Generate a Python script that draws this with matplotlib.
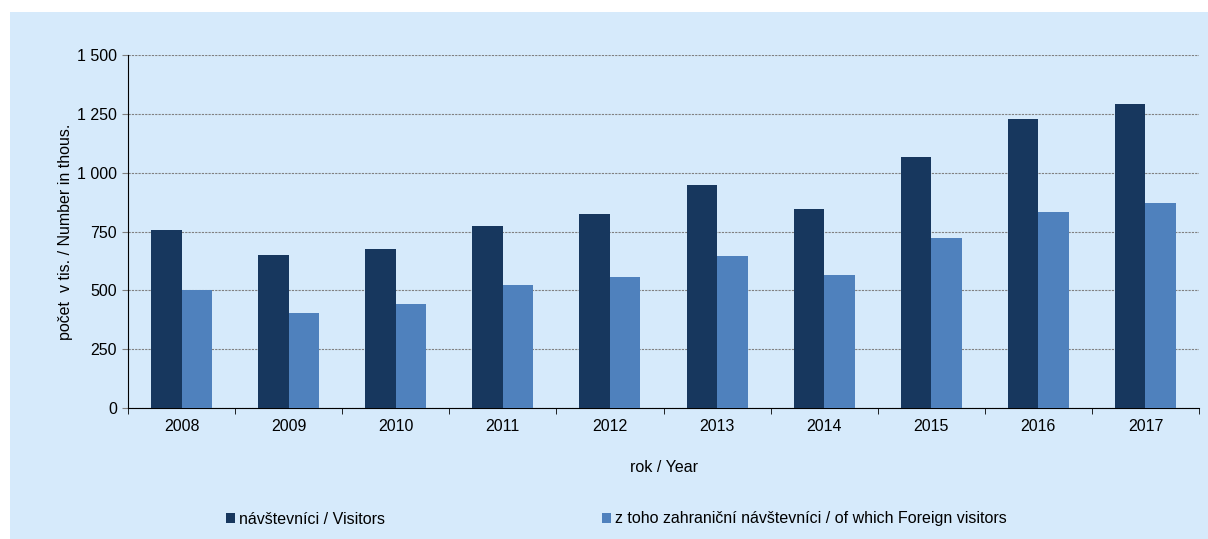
import matplotlib.pyplot as plt
import matplotlib.ticker as mticker
from matplotlib.patches import Rectangle
import numpy as np

plt.rcParams['font.family'] = ['Liberation Sans', 'DejaVu Sans']
plt.rcParams['font.size'] = 11.5

years = ['2008', '2009', '2010', '2011', '2012', '2013', '2014', '2015', '2016', '2017']
visitors = [758, 650, 676, 773, 824, 948, 846, 1067, 1228, 1292]
foreign = [501, 403, 442, 523, 557, 646, 565, 722, 833, 871]

bg = '#D6EAFB'
c_dark = '#17375E'
c_light = '#4F81BD'

fig = plt.figure(figsize=(12.08, 5.39), dpi=100)
# light blue chart area, white strip on top and left
fig.patches.append(Rectangle((10 / 1208, 0), 1, 1 - 12 / 539, transform=fig.transFigure,
                             facecolor=bg, edgecolor='none', zorder=0))

ax = fig.add_axes([128 / 1208, 1 - 408 / 539, (1199 - 128) / 1208, (408 - 55) / 539])
ax.set_zorder(2)
ax.patch.set_alpha(0)

x = np.arange(len(years))
w = 0.285
ax.bar(x - w / 2, visitors, width=w, color=c_dark, label='návštevníci / Visitors', zorder=3)
ax.bar(x + w / 2, foreign, width=w, color=c_light,
       label='z toho zahraniční návštevníci / of which Foreign visitors', zorder=3)

ax.set_xlim(-0.5, len(years) - 0.5)
ax.set_ylim(0, 1500)
ax.set_yticks(np.arange(0, 1501, 250))
ax.yaxis.set_major_formatter(mticker.FuncFormatter(lambda v, p: f'{int(v):,}'.replace(',', ' ')))
ax.set_xticks(x)
ax.set_xticklabels(years)
ax.set_xticks(np.arange(-0.5, len(years), 1), minor=True)
ax.tick_params(axis='x', which='major', length=0, pad=8)
ax.tick_params(axis='x', which='minor', length=4, direction='out', color='black')
ax.tick_params(axis='y', length=4, direction='out', color='#808080', pad=4)

ax.yaxis.grid(True, linestyle=(0, (2, 1)), color='#808080', linewidth=0.8, zorder=1)
for s in ['top', 'right']:
    ax.spines[s].set_visible(False)
ax.spines['left'].set_color('black')
ax.spines['bottom'].set_color('black')

ax.set_xlabel('rok / Year', labelpad=19)
ax.set_ylabel('počet  v tis. / Number in thous.', labelpad=3)

fig.legend(loc='center', bbox_to_anchor=(616 / 1208, 1 - 519 / 539), ncol=2, frameon=False,
           handlelength=0.6, handleheight=0.6, handletextpad=0.2, columnspacing=13.6)

fig.savefig('out.png', dpi=100)
